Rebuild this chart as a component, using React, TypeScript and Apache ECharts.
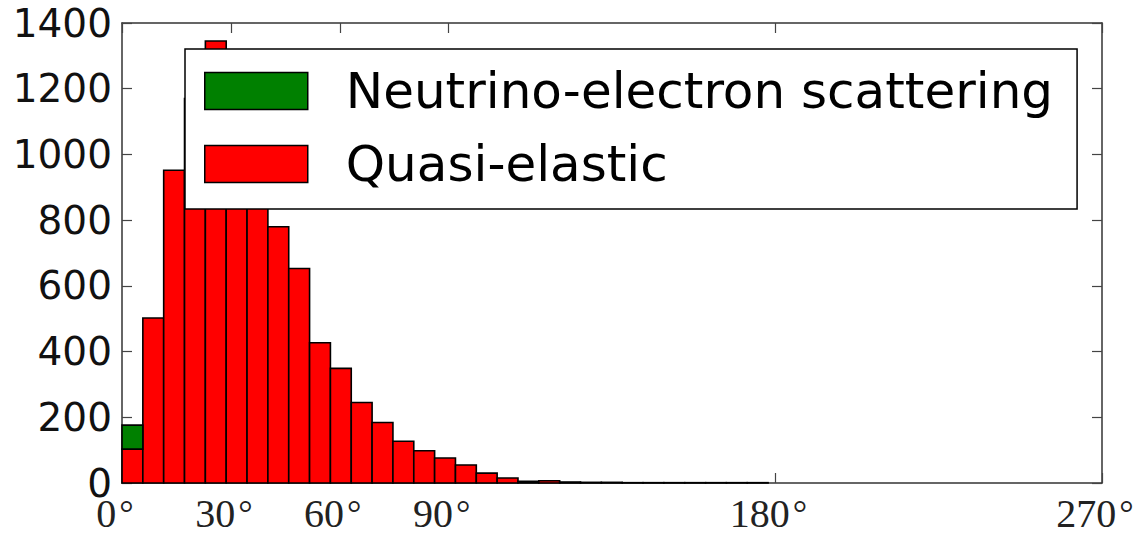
import React, { useEffect, useRef } from "react";
import * as echarts from "echarts";

// Histogram of scattering angle (degrees), 31 equal bins from 0 to ~178 deg
const BIN_WIDTH_DEG = 5.742;
const quasiElastic = [103, 502, 952, 1170, 1345, 1200, 1000, 780, 653, 427, 349, 245, 184, 127, 98, 76, 55, 30, 15, 5, 7, 3, 2, 2, 1, 1, 1, 1, 1, 1, 1];
const neutrinoElectron = [73, 0, 0, 0, 0, 0, 0, 0, 0, 0, 0, 0, 0, 0, 0, 0, 0, 0, 0, 0, 0, 0, 0, 0, 0, 0, 0, 0, 0, 0, 0];
const xTickValues = [0, 30, 60, 90, 180, 270];
const yTickValues = [0, 200, 400, 600, 800, 1000, 1200, 1400];

const NAME_GREEN = "Neutrino-electron scattering";
const NAME_RED = "Quasi-elastic";

export default function App() {
  const ref = useRef<HTMLDivElement>(null);
  useEffect(() => {
    if (!ref.current) return;
    const chart = echarts.init(ref.current, undefined, { renderer: "svg" });

    const redData = quasiElastic.map((v, i) => [i * BIN_WIDTH_DEG, (i + 1) * BIN_WIDTH_DEG, 0, v]);
    const greenData = neutrinoElectron.map((v, i) => [
      i * BIN_WIDTH_DEG,
      (i + 1) * BIN_WIDTH_DEG,
      quasiElastic[i],
      quasiElastic[i] + v,
    ]);

    const makeRender = (fill: string) => (params: any, api: any) => {
      const x0 = api.value(0);
      const x1 = api.value(1);
      const b = api.value(2);
      const t = api.value(3);
      if (t <= b) return null;
      const p0 = api.coord([x0, t]);
      const p1 = api.coord([x1, b]);
      return {
        type: "rect",
        shape: { x: p0[0], y: p0[1], width: p1[0] - p0[0], height: p1[1] - p0[1] },
        style: { fill, stroke: "#000", lineWidth: 1.6 },
      };
    };

    const spine = { show: true, onZero: false, lineStyle: { color: "#333", width: 1.5 } };
    const tick = { show: true, inside: true, length: 10, lineStyle: { color: "#444", width: 1.2 } };

    chart.setOption({
      animation: false,
      backgroundColor: "#fff",
      grid: { left: 122, right: 34, top: 23, bottom: 53, containLabel: false, outerBoundsMode: "none" },
      legend: {
        data: [
          { name: NAME_GREEN, icon: "rect", itemStyle: { color: "#008000", borderColor: "#000", borderWidth: 1.5 } },
          { name: NAME_RED, icon: "rect", itemStyle: { color: "#ff0000", borderColor: "#000", borderWidth: 1.5 } },
        ],
        orient: "vertical",
        left: 185,
        top: 49,
        padding: [17, 24, 20, 19],
        itemWidth: 103,
        itemHeight: 37,
        itemGap: 23,
        textStyle: { fontFamily: "DejaVu Sans", fontSize: 50, color: "#000", lineHeight: 48, padding: [0, 0, 0, 33] },
        backgroundColor: "#fff",
        borderColor: "#000",
        borderWidth: 1.5,
        borderRadius: 0,
        selectedMode: false,
        z: 10,
      },
      xAxis: [
        {
          type: "value",
          min: 0,
          max: 270,
          interval: 30,
          position: "bottom",
          splitLine: { show: false },
          axisLine: spine,
          axisTick: { ...tick, customValues: xTickValues },
          axisLabel: {
            customValues: xTickValues,
            formatter: (v: number) => `{d|${v}}{g|°}`,
            margin: 14,
            padding: [0, 14, 0, 0],
            rich: {
              d: { fontFamily: "Liberation Serif", fontSize: 40, lineHeight: 32, color: "#222" },
              g: { fontFamily: "Liberation Serif", fontSize: 36, lineHeight: 32, color: "#222", padding: [0, 0, 0, 3] },
            },
          },
        },
        {
          type: "value",
          min: 0,
          max: 270,
          interval: 30,
          position: "top",
          splitLine: { show: false },
          axisLine: spine,
          axisTick: { ...tick, customValues: xTickValues },
          axisLabel: { show: false },
        },
      ],
      yAxis: [
        {
          type: "value",
          min: 0,
          max: 1400,
          interval: 200,
          position: "left",
          splitLine: { show: false },
          axisLine: spine,
          axisTick: { ...tick, customValues: yTickValues },
          axisLabel: {
            customValues: yTickValues,
            formatter: (v: number) => String(v),
            fontFamily: "DejaVu Sans",
            fontSize: 39,
            lineHeight: 30,
            color: "#111",
            margin: 10,
          },
        },
        {
          type: "value",
          min: 0,
          max: 1400,
          interval: 200,
          position: "right",
          splitLine: { show: false },
          axisLine: spine,
          axisTick: { ...tick, customValues: yTickValues },
          axisLabel: { show: false },
        },
      ],
      series: [
        {
          name: NAME_RED,
          type: "custom",
          renderItem: makeRender("#ff0000"),
          itemStyle: { color: "#ff0000" },
          encode: { x: [0, 1], y: [2, 3] },
          data: redData,
          z: 2,
        },
        {
          name: NAME_GREEN,
          type: "custom",
          renderItem: makeRender("#008000"),
          itemStyle: { color: "#008000" },
          encode: { x: [0, 1], y: [2, 3] },
          data: greenData,
          z: 2,
        },
      ],
    });
    return () => chart.dispose();
  }, []);
  return <div ref={ref} style={{ width: 1136, height: 536, position: "absolute", left: 0, top: 0 }} />;
}
